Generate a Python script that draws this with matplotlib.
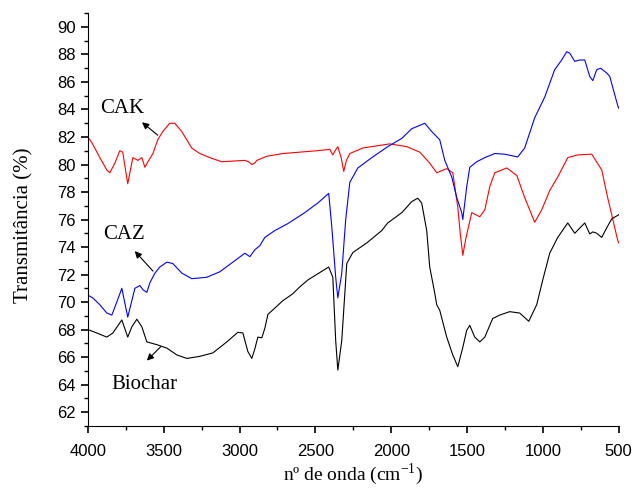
import matplotlib
matplotlib.use("Agg")
import matplotlib.pyplot as plt
from matplotlib.ticker import MultipleLocator

# CAK (red)
cak_x = [4000, 3974, 3921, 3875, 3855, 3822, 3789, 3770, 3750, 3737, 3723, 3703, 3670, 3644,
         3624, 3604, 3571, 3539, 3506, 3460, 3427, 3381, 3315, 3262, 3196, 3117, 3044, 2965,
         2940, 2919, 2900, 2886, 2820, 2714, 2602, 2491, 2405, 2385, 2370, 2352, 2330, 2313,
         2295, 2273, 2187, 2010, 1898, 1812, 1746, 1700, 1634, 1594, 1561, 1545, 1528, 1510,
         1496, 1469, 1416, 1383, 1350, 1317, 1238, 1172, 1120, 1054, 1008, 955, 902, 836, 770,
         678, 612, 573, 507, 500]
cak_y = [82.0, 81.6, 80.5, 79.6, 79.4, 80.1, 81.0, 80.9, 79.5, 78.6, 79.4, 80.5, 80.3, 80.5,
         79.8, 80.2, 80.8, 81.8, 82.4, 83.0, 83.0, 82.4, 81.2, 80.8, 80.5, 80.2, 80.25, 80.3,
         80.2, 80.0, 80.1, 80.3, 80.6, 80.8, 80.9, 81.0, 81.1, 80.7, 81.0, 81.3, 80.5, 79.5,
         80.3, 80.8, 81.2, 81.5, 81.3, 80.9, 80.1, 79.4, 79.7, 79.4, 76.9, 75.0, 73.4, 74.5,
         75.2, 76.5, 76.2, 76.7, 78.4, 79.4, 79.75, 79.2, 77.6, 75.8, 76.7, 78.1, 79.1, 80.5, 80.7,
         80.75, 79.6, 77.6, 74.5, 74.3]

# CAZ (blue)
caz_x = [4000, 3967, 3921, 3875, 3842, 3809, 3776, 3763, 3737, 3710, 3690, 3657, 3637, 3611,
         3591, 3558, 3525, 3479, 3440, 3380, 3315, 3216, 3130, 3044, 2965, 2932, 2899, 2866,
         2833, 2767, 2682, 2570, 2484, 2412, 2392, 2366, 2352, 2326, 2300, 2273, 2220, 2128,
         2023, 1930, 1865, 1779, 1733, 1680, 1647, 1601, 1568, 1535, 1528, 1502, 1482, 1436,
         1383, 1317, 1252, 1166, 1120, 1054, 988, 922, 876, 843, 823, 790, 757, 724, 691, 671,
         645, 619, 579, 559, 507, 500]
caz_y = [70.5, 70.3, 69.8, 69.2, 69.05, 70.0, 71.0, 70.3, 68.9, 70.1, 71.0, 71.2, 70.9, 70.7,
         71.4, 72.1, 72.55, 72.9, 72.8, 72.1, 71.7, 71.8, 72.2, 72.9, 73.55, 73.3, 73.8, 74.1,
         74.7, 75.2, 75.7, 76.5, 77.2, 77.9, 75.5, 71.8, 70.3, 72.1, 76.0, 78.7, 79.75, 80.5,
         81.3, 81.9, 82.6, 83.0, 82.4, 81.8, 80.3, 79.1, 77.6, 76.5, 76.0, 78.4, 79.8, 80.2,
         80.5, 80.8, 80.75, 80.55, 81.2, 83.4, 84.9, 86.9, 87.6, 88.2, 88.1, 87.5, 87.6, 87.6,
         86.4, 86.1, 86.9, 87.0, 86.65, 86.4, 84.3, 84.1]

# Biochar (black)
bio_x = [4000, 3941, 3875, 3835, 3776, 3737, 3710, 3677, 3644, 3611, 3545, 3479, 3413, 3347,
         3262, 3176, 3084, 3011, 2978, 2945, 2919, 2899, 2879, 2853, 2833, 2813, 2714, 2649,
         2603, 2550, 2412, 2385, 2366, 2352, 2326, 2293, 2253, 2161, 2062, 2023, 1930, 1865,
         1825, 1799, 1766, 1746, 1713, 1700, 1680, 1634, 1594, 1561, 1528, 1502, 1482, 1449,
         1416, 1383, 1331, 1285, 1219, 1153, 1093, 1041, 1001, 955, 902, 836, 790, 724, 691,
         671, 645, 612, 579, 546, 507, 500]
bio_y = [68.0, 67.75, 67.45, 67.75, 68.7, 67.45, 68.2, 68.75, 68.2, 67.1, 66.9, 66.65, 66.15, 65.9,
         66.05, 66.3, 67.1, 67.8, 67.75, 66.4, 65.9, 66.6, 67.45, 67.4, 68.1, 69.1, 70.1, 70.6,
         71.1, 71.6, 72.55, 71.8, 67.2, 65.05, 67.2, 72.8, 73.6, 74.3, 75.2, 75.75, 76.5, 77.3,
         77.55, 77.2, 75.2, 72.55, 70.65, 69.8, 69.4, 67.45, 66.15, 65.3, 66.7, 67.95, 68.3, 67.45,
         67.1, 67.45, 68.8, 69.05, 69.3, 69.2, 68.6, 69.8, 71.6, 73.55, 74.7, 75.75, 75.0, 75.75, 74.95,
         75.1, 75.0, 74.7, 75.4, 76.05, 76.3, 76.35]

serif = "Liberation Serif"
sans = "Liberation Sans"

fig = plt.figure(figsize=(6.32, 4.9), dpi=100)
ax = fig.add_axes([0.139, 0.131, 0.840, 0.842])

ax.plot(cak_x, cak_y, color="#ff0000", lw=0.8)
ax.plot(caz_x, caz_y, color="#0000ff", lw=0.8)
ax.plot(bio_x, bio_y, color="black", lw=0.8)

ax.set_xlim(4000, 500)
ax.set_ylim(61, 91)
ax.xaxis.set_major_locator(MultipleLocator(500))
ax.xaxis.set_minor_locator(MultipleLocator(250))
ax.yaxis.set_minor_locator(MultipleLocator(1))
ax.set_yticks(range(62, 91, 2))

for s in ("top", "right"):
    ax.spines[s].set_visible(False)
ax.tick_params(which="major", direction="out", length=5, width=1.2, labelsize=12)
ax.tick_params(which="minor", direction="out", length=3, width=1.0)
ax.tick_params(axis="x", which="major", pad=8)
for lab in ax.get_xticklabels() + ax.get_yticklabels():
    lab.set_fontfamily(sans)

# axis titles placed by hand to sit where the reference has them
fig.text(0.558, 0.020, "nº de onda (cm$^{\\mathregular{-1}}$)", fontfamily=serif,
         fontsize=14, ha="center", va="baseline")
fig.text(0.037, 0.540, "Transmitância (%)", fontfamily=serif, fontsize=15,
         rotation=90, ha="center", va="center")

arrow = dict(arrowstyle="-|>", color="black", lw=0.8, mutation_scale=10)
ax.annotate("", xy=(3657, 83.2), xytext=(3525, 82.0), arrowprops=arrow)
ax.annotate("", xy=(3703, 73.85), xytext=(3558, 72.1), arrowprops=arrow)
ax.annotate("", xy=(3624, 65.6), xytext=(3506, 66.9), arrowprops=arrow)
ax.text(3776, 84.1, "CAK", fontfamily=serif, fontsize=15, ha="center", va="center")
ax.text(3763, 74.9, "CAZ", fontfamily=serif, fontsize=15, ha="center", va="center")
ax.text(3624, 64.0, "Biochar", fontfamily=serif, fontsize=15, ha="center", va="center")

fig.savefig("out.png", dpi=100)
